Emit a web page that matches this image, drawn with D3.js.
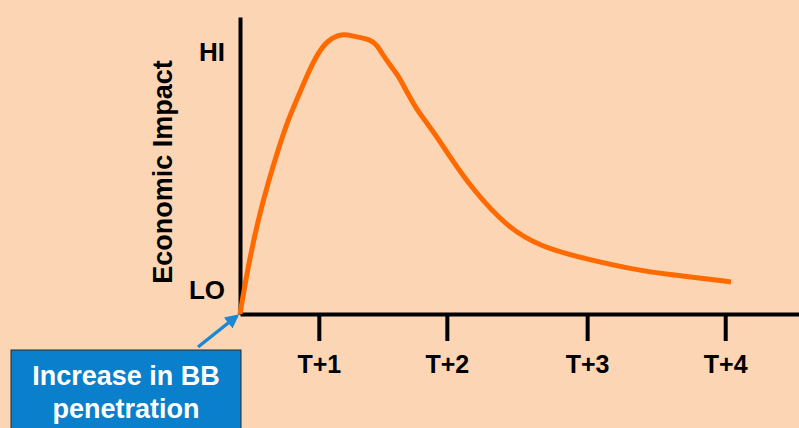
<!DOCTYPE html>
<html>
<head>
<meta charset="utf-8">
<script src="https://cdn.jsdelivr.net/npm/d3@7"></script>
<style>
  html, body { margin: 0; padding: 0; background: #fbd5b4; }
  svg { display: block; font-family: "Liberation Sans", Arial, sans-serif; font-weight: bold; }
</style>
</head>
<body>
<div id="chart"></div>
<script>
// Chart data: time on a 0-100 scale (T+n ticks sit at uneven spots), impact on 0-100
var periodPositions = [14.1, 37, 62.1, 86.8];
var periodLabels = ["T+1", "T+2", "T+3", "T+4"];
var levelValues = [8, 88];
var levelLabels = ["LO", "HI"];

var curveTime = [0, 1.43, 3.22, 5.01, 6.8, 8.59, 10.38, 12.16, 13.95, 15.74, 18.25, 20.21,
                 21.47, 23.26, 24.51, 25.58, 26.83, 28.26, 29.87, 31.66, 33.45, 35.24, 37.57,
                 41.68, 47.76, 53.67, 62.61, 71.56, 80.5, 87.84];
var curveImpact = [0, 15.8, 31.6, 44.1, 55.2, 65.3, 73.1, 81.1, 87.9, 92.3, 94.4, 93.6,
                   93.1, 92.4, 90.6, 87.2, 83.8, 80.5, 74.7, 68.7, 64.3, 59.6, 52.9,
                   41.8, 29.3, 22.6, 18.2, 14.5, 12.5, 10.8];

// Layout
var svgWidth = 799, svgHeight = 428;
var origin = { x: 240, y: 314 };

var svg = d3.select("#chart")
    .append("svg")
    .attr("width", svgWidth)
    .attr("height", svgHeight);

svg.append("rect")
    .attr("width", svgWidth)
    .attr("height", svgHeight)
    .attr("fill", "#fbd5b4");

// Scales
var x = d3.scaleLinear()
    .domain([0, 100])
    .range([origin.x, svgWidth]);
var y = d3.scaleLinear()
    .domain([0, 100])
    .range([origin.y, 17]);

// X axis
var xAxis = svg.append("g")
    .attr("transform", "translate(0," + origin.y + ")")
    .call(d3.axisBottom(x)
        .tickValues(periodPositions)
        .tickFormat((d, i) => periodLabels[i])
        .tickSize(27)
        .tickSizeOuter(0)
        .tickPadding(14));
xAxis.select(".domain").attr("stroke", "#000").attr("stroke-width", 4);
xAxis.selectAll(".tick line").attr("stroke", "#000").attr("stroke-width", 4);
xAxis.selectAll(".tick text")
    .attr("fill", "#000")
    .style("font-size", "25px")
    .style("font-weight", "bold")
    .style("font-family", "'Liberation Sans', Arial, sans-serif");

// Y axis
var yAxis = svg.append("g")
    .attr("transform", "translate(" + origin.x + ",0)")
    .call(d3.axisLeft(y)
        .tickValues(levelValues)
        .tickFormat((d, i) => levelLabels[i])
        .tickSize(0)
        .tickSizeOuter(0)
        .tickPadding(15));
yAxis.select(".domain").attr("stroke", "#000").attr("stroke-width", 4);
yAxis.selectAll(".tick text")
    .attr("fill", "#000")
    .style("font-size", "26px")
    .style("font-weight", "bold")
    .style("font-family", "'Liberation Sans', Arial, sans-serif");

// Y axis title
svg.append("text")
    .attr("transform", "translate(172,172) rotate(-90)")
    .attr("text-anchor", "middle")
    .attr("font-size", 27)
    .attr("fill", "#000")
    .text("Economic Impact");

// Impact curve (basis smooths the hand-read points)
var points = curveTime.map((t, i) => ({ t: t, v: curveImpact[i] }));
var line = d3.line()
    .x(d => x(d.t))
    .y(d => y(d.v))
    .curve(d3.curveBasis);

svg.append("path")
    .attr("d", line(points))
    .attr("fill", "none")
    .attr("stroke", "#ff6a00")
    .attr("stroke-width", 5)
    .attr("stroke-linejoin", "round");

// Callout box
svg.append("rect")
    .attr("x", 11)
    .attr("y", 350)
    .attr("width", 230)
    .attr("height", 90)
    .attr("fill", "#0a7fcb")
    .attr("stroke", "#2b2b2b")
    .attr("stroke-width", 1);

var boxText = svg.append("text")
    .attr("text-anchor", "middle")
    .attr("font-size", 27)
    .attr("fill", "#fff");
boxText.append("tspan").attr("x", 126).attr("y", 385).text("Increase in BB");
boxText.append("tspan").attr("x", 126).attr("y", 418).text("penetration");

// Arrow pointing to origin
svg.append("defs").append("marker")
    .attr("id", "head")
    .attr("viewBox", "0 0 10 10")
    .attr("refX", 8)
    .attr("refY", 5)
    .attr("markerWidth", 4)
    .attr("markerHeight", 4)
    .attr("orient", "auto")
    .append("path")
    .attr("d", "M0,0 L10,5 L0,10 z")
    .attr("fill", "#1a88d2");

svg.append("line")
    .attr("x1", 198)
    .attr("y1", 347)
    .attr("x2", x(0) - 3)
    .attr("y2", y(0) + 2)
    .attr("stroke", "#1a88d2")
    .attr("stroke-width", 3.5)
    .attr("marker-end", "url(#head)");
</script>
</body>
</html>
